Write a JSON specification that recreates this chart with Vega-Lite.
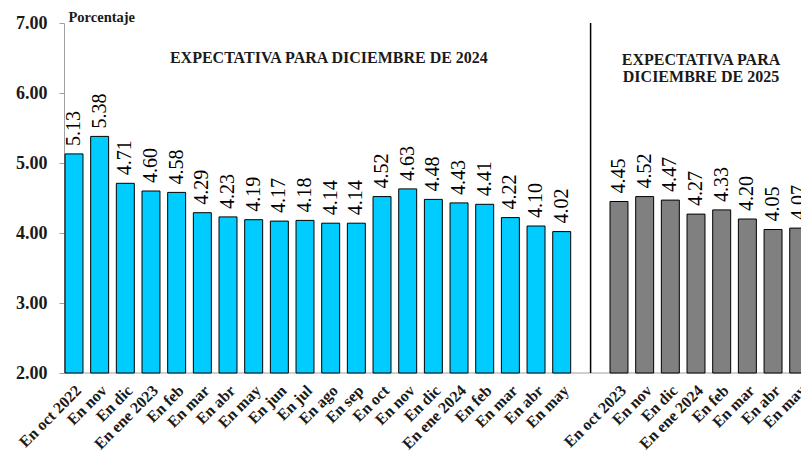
{
  "$schema": "https://vega.github.io/schema/vega-lite/v6.json",
  "width": 737,
  "height": 350,
  "autosize": {"type": "none"},
  "padding": {"left": 64, "top": 23, "right": 0, "bottom": 81},
  "background": "white",
  "config": {
    "view": {"stroke": null},
    "font": "Liberation Serif"
  },
  "datasets": {
    "dic2024": [
      {"m": "En oct 2022", "v": 5.13}, {"m": "En nov|a", "v": 5.38}, {"m": "En dic|a", "v": 4.71},
      {"m": "En ene 2023", "v": 4.60}, {"m": "En feb|a", "v": 4.58}, {"m": "En mar|a", "v": 4.29},
      {"m": "En abr|a", "v": 4.23}, {"m": "En may|a", "v": 4.19}, {"m": "En jun", "v": 4.17},
      {"m": "En jul", "v": 4.18}, {"m": "En ago", "v": 4.14}, {"m": "En sep", "v": 4.14},
      {"m": "En oct", "v": 4.52}, {"m": "En nov|b", "v": 4.63}, {"m": "En dic|b", "v": 4.48},
      {"m": "En ene 2024", "v": 4.43}, {"m": "En feb|b", "v": 4.41}, {"m": "En mar|b", "v": 4.22},
      {"m": "En abr|b", "v": 4.10}, {"m": "En may|b", "v": 4.02}
    ],
    "dic2025": [
      {"m": "En oct 2023|g", "v": 4.45}, {"m": "En nov|g", "v": 4.52}, {"m": "En dic|g", "v": 4.47},
      {"m": "En ene 2024|g", "v": 4.27}, {"m": "En feb|g", "v": 4.33}, {"m": "En mar|g", "v": 4.20},
      {"m": "En abr|g", "v": 4.05}, {"m": "En may|g", "v": 4.07}
    ]
  },
  "resolve": {"scale": {"x": "independent"}, "axis": {"x": "independent"}},
  "layer": [
    {
      "data": {"values": [{}]},
      "mark": {"type": "rule", "color": "#a0a0a0", "strokeWidth": 1},
      "encoding": {
        "y": {
          "datum": 2, "type": "quantitative", "title": "Porcentaje",
          "scale": {"domain": [2, 7], "nice": false, "zero": false},
          "axis": {
            "values": [2, 3, 4, 5, 6, 7], "format": ".2f", "grid": false,
            "titleAngle": 0, "titleX": 4, "titleY": -2, "titleAlign": "left", "titleBaseline": "alphabetic",
            "titleFontSize": 14.5, "titleFontWeight": "bold", "titleColor": "#1a1a1a", "titleFont": "Liberation Serif",
            "labelFontSize": 18, "labelFontWeight": "bold", "labelColor": "#1a1a1a", "labelFont": "Liberation Serif",
            "labelPadding": 12, "tickSize": 5, "tickColor": "#a0a0a0", "domainColor": "#a0a0a0"
          }
        }
      }
    },
    {
      "data": {"name": "dic2024"},
      "encoding": {
        "x": {
          "field": "m", "type": "nominal", "sort": null,
          "scale": {
            "type": "band", "range": [1, 506.7], "paddingInner": 0.3, "paddingOuter": 0,
            "domain": ["En oct 2022", "En nov|a", "En dic|a", "En ene 2023", "En feb|a", "En mar|a", "En abr|a", "En may|a", "En jun", "En jul", "En ago", "En sep", "En oct", "En nov|b", "En dic|b", "En ene 2024", "En feb|b", "En mar|b", "En abr|b", "En may|b"]
          },
          "axis": {
            "orient": "bottom", "labelAngle": -45, "labelExpr": "split(datum.value, '|')[0]", "domain": false, "ticks": false,
            "labelFontSize": 16, "labelFontWeight": "bold", "labelColor": "#1a1a1a", "labelFont": "Liberation Serif",
            "labelPadding": 9, "labelOffset": -1, "title": null
          }
        }
      },
      "layer": [
        {
          "mark": {"type": "bar", "color": "#00CCFF", "stroke": "#000000", "strokeWidth": 1},
          "encoding": {
            "y": {"field": "v", "type": "quantitative", "title": "Porcentaje", "scale": {"domain": [2, 7], "nice": false, "zero": false}},
            "y2": {"datum": 2}
          }
        },
        {
          "mark": {"type": "text", "angle": 270, "align": "left", "baseline": "middle", "dx": 8, "fontSize": 20, "font": "Liberation Serif", "color": "#000000"},
          "encoding": {
            "y": {"field": "v", "type": "quantitative", "title": "Porcentaje", "scale": {"domain": [2, 7], "nice": false, "zero": false}},
            "text": {"field": "v", "type": "quantitative", "format": ".2f"}
          }
        },
        {
          "data": {"values": [{}]},
          "mark": {"type": "text", "text": "EXPECTATIVA PARA DICIEMBRE DE 2024", "fontSize": 16, "fontWeight": "bold", "font": "Liberation Serif", "align": "center", "baseline": "middle", "color": "#1a1a1a"},
          "encoding": {
            "x": {"datum": "En ago", "bandPosition": 0.4},
            "y": {"datum": 6.5, "type": "quantitative", "title": "Porcentaje", "scale": {"domain": [2, 7], "nice": false, "zero": false}}
          }
        }
      ]
    },
    {
      "data": {"name": "dic2025"},
      "encoding": {
        "x": {
          "field": "m", "type": "nominal", "sort": null,
          "scale": {
            "type": "band", "range": [546, 743.7], "paddingInner": 0.3, "paddingOuter": 0,
            "domain": ["En oct 2023|g", "En nov|g", "En dic|g", "En ene 2024|g", "En feb|g", "En mar|g", "En abr|g", "En may|g"]
          },
          "axis": {
            "orient": "bottom", "labelAngle": -45, "labelExpr": "split(datum.value, '|')[0]", "domain": false, "ticks": false,
            "labelFontSize": 16, "labelFontWeight": "bold", "labelColor": "#1a1a1a", "labelFont": "Liberation Serif",
            "labelPadding": 9, "labelOffset": -1, "title": null
          }
        }
      },
      "layer": [
        {
          "mark": {"type": "bar", "color": "#808080", "stroke": "#000000", "strokeWidth": 1},
          "encoding": {
            "y": {"field": "v", "type": "quantitative", "title": "Porcentaje", "scale": {"domain": [2, 7], "nice": false, "zero": false}},
            "y2": {"datum": 2}
          }
        },
        {
          "mark": {"type": "text", "angle": 270, "align": "left", "baseline": "middle", "dx": 8, "fontSize": 20, "font": "Liberation Serif", "color": "#000000"},
          "encoding": {
            "y": {"field": "v", "type": "quantitative", "title": "Porcentaje", "scale": {"domain": [2, 7], "nice": false, "zero": false}},
            "text": {"field": "v", "type": "quantitative", "format": ".2f"}
          }
        },
        {
          "data": {"values": [{}]},
          "mark": {"type": "text", "text": ["EXPECTATIVA PARA", "DICIEMBRE DE 2025"], "lineHeight": 16.5, "fontSize": 16, "fontWeight": "bold", "font": "Liberation Serif", "align": "center", "baseline": "middle", "color": "#1a1a1a"},
          "encoding": {
            "x": {"datum": "En ene 2024|g", "bandPosition": 0.78},
            "y": {"datum": 6.47, "type": "quantitative", "title": "Porcentaje", "scale": {"domain": [2, 7], "nice": false, "zero": false}}
          }
        },
        {
          "data": {"values": [{}]},
          "mark": {"type": "rule", "color": "#000000", "strokeWidth": 1.5},
          "encoding": {
            "x": {"datum": "En oct 2023|g", "bandPosition": -1.08}
          }
        }
      ]
    }
  ]
}
